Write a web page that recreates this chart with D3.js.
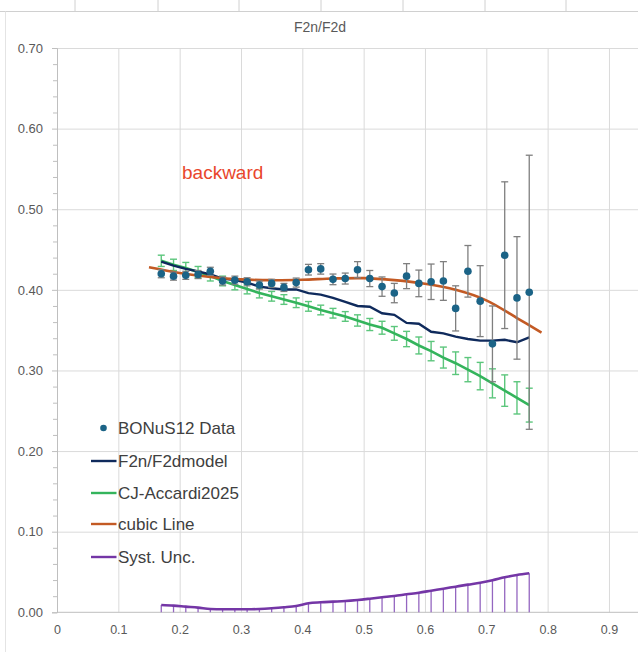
<!DOCTYPE html>
<html>
<head>
<meta charset="utf-8">
<script src="https://cdn.jsdelivr.net/npm/d3@7/dist/d3.min.js"></script>
<style>
  html, body { margin: 0; padding: 0; background: #ffffff; }
  svg { display: block; font-family: "Liberation Sans", Arial, sans-serif; }
</style>
</head>
<body>
<svg id="chart" width="638" height="652"></svg>
<script>
// ---- data ----
const xVals = [0.17,0.19,0.21,0.23,0.25,0.27,0.29,0.31,0.33,0.35,0.37,0.39,0.41,0.43,0.45,0.47,0.49,0.51,0.53,0.55,0.57,0.59,0.61,0.63,0.65,0.67,0.69,0.71,0.73,0.75,0.77];
const bonusData = [0.420,0.417,0.418,0.419,0.423,0.411,0.412,0.410,0.406,0.408,0.403,0.409,0.425,0.426,0.413,0.414,0.425,0.414,0.404,0.396,0.417,0.408,0.410,0.411,0.377,0.423,0.386,0.333,0.443,0.390,0.397];
const bonusErr = [0.005,0.005,0.005,0.005,0.005,0.005,0.005,0.005,0.005,0.005,0.005,0.0056,0.0066,0.0065,0.0066,0.0068,0.010,0.010,0.012,0.012,0.0155,0.0165,0.022,0.024,0.028,0.032,0.044,0.047,0.091,0.076,0.170];
const modelF2 = [0.435,0.430,0.426,0.423,0.419,0.414,0.412,0.409,0.404,0.402,0.4005,0.4005,0.396,0.394,0.390,0.385,0.380,0.379,0.371,0.369,0.359,0.358,0.348,0.346,0.342,0.339,0.337,0.337,0.338,0.335,0.341];
const cjAccardi = [0.436,0.431,0.427,0.422,0.417,0.411,0.406,0.401,0.396,0.392,0.388,0.384,0.3795,0.375,0.371,0.367,0.362,0.357,0.353,0.346,0.339,0.331,0.324,0.316,0.309,0.301,0.293,0.284,0.275,0.266,0.257];
const cjErr = [0.007,0.007,0.007,0.007,0.006,0.006,0.006,0.006,0.006,0.006,0.006,0.006,0.006,0.006,0.006,0.006,0.007,0.0075,0.008,0.0085,0.0095,0.0105,0.012,0.013,0.014,0.015,0.017,0.018,0.0195,0.020,0.021];
const cubicX = [0.15,0.20,0.25,0.30,0.35,0.40,0.45,0.50,0.55,0.60,0.65,0.70,0.75,0.79];
const cubicY = [0.428,0.421,0.416,0.413,0.412,0.4125,0.414,0.4145,0.412,0.4075,0.400,0.387,0.365,0.347];
const systUnc = [0.009,0.0083,0.007,0.0058,0.0041,0.0037,0.0037,0.0037,0.0041,0.005,0.0062,0.0078,0.0112,0.0124,0.0132,0.014,0.0153,0.0169,0.0186,0.0202,0.0223,0.0243,0.0268,0.0293,0.0318,0.0343,0.0367,0.0397,0.0434,0.0463,0.0484];
const yTicks = [0,0.1,0.2,0.3,0.4,0.5,0.6,0.7];
const yMinorTicks = [0.02,0.04,0.06,0.08,0.12,0.14,0.16,0.18,0.22,0.24,0.26,0.28,0.32,0.34,0.36,0.38,0.42,0.44,0.46,0.48,0.52,0.54,0.56,0.58,0.62,0.64,0.66,0.68];
const xTicks = [0,0.1,0.2,0.3,0.4,0.5,0.6,0.7,0.8,0.9];
const xTickLabels = ["0","0.1","0.2","0.3","0.4","0.5","0.6","0.7","0.8","0.9"];
const legendNames = ["BONuS12 Data","F2n/F2dmodel","CJ-Accardi2025","cubic Line","Syst. Unc."];
const titleText = "F2n/F2d";
const noteText = "backward";

// ---- styles ----
const C = {
  dot: "#1b6386", dataErr: "#7f7f7f",
  model: "#0f2a5c", cj: "#34b45c", cjErr: "#5cc67c",
  cubic: "#c35a24", syst: "#7436a6", systDrop: "#9466c0",
  grid: "#dadada", axis: "#bfbfbf", text: "#595959", legend: "#404040", note: "#e9472c"
};

const svg = d3.select("#chart");
const x = d3.scaleLinear().domain([0, 1]).range([57, 670.3]);
const y = d3.scaleLinear().domain([0, 0.7]).range([612.3, 48]);

// spreadsheet decoration (column borders above chart)
const colLines = [75, 158, 239, 321, 403, 485, 566];
svg.append("g").selectAll("line").data(colLines).join("line")
  .attr("x1", d => d).attr("x2", d => d).attr("y1", 0).attr("y2", 11)
  .attr("stroke", "#d0d0d0");
svg.append("line").attr("x1", 0).attr("x2", 638).attr("y1", 11.5).attr("y2", 11.5).attr("stroke", "#d0d0d0");
svg.append("line").attr("x1", 5.5).attr("x2", 5.5).attr("y1", 11.5).attr("y2", 652).attr("stroke", "#e4e4e4");

// title
svg.append("text").attr("x", 320).attr("y", 32).attr("text-anchor", "middle")
  .attr("font-size", 14).attr("fill", C.text).text(titleText);

// gridlines
const gy = svg.append("g").attr("transform", "translate(57,0)")
  .call(d3.axisLeft(y).tickValues(yTicks.filter(d => d > 0)).tickSize(-(638 - 57)).tickFormat(""));
gy.select(".domain").remove();
gy.selectAll("line").attr("stroke", C.grid);

const gx = svg.append("g").attr("transform", "translate(0,612.3)")
  .call(d3.axisBottom(x).tickValues(xTicks.filter(d => d > 0)).tickSize(-(612.3 - 48)).tickFormat(""));
gx.select(".domain").remove();
gx.selectAll("line").attr("stroke", C.grid);

// y axis with labels
const ya = svg.append("g").attr("transform", "translate(57,0)")
  .call(d3.axisLeft(y).tickValues(yTicks).tickSize(5).tickPadding(9).tickFormat(d3.format(".2f")));
ya.select(".domain").attr("stroke", C.axis);
ya.selectAll("line").attr("stroke", C.axis);
ya.selectAll("text").attr("fill", C.text).attr("font-size", 13)
  .attr("font-family", "'Liberation Sans', Arial, sans-serif");

const ym = svg.append("g").attr("transform", "translate(57,0)")
  .call(d3.axisLeft(y).tickValues(yMinorTicks).tickSize(4).tickFormat(""));
ym.select(".domain").remove();
ym.selectAll("line").attr("stroke", C.axis);

// x axis
const xa = svg.append("g").attr("transform", "translate(0,612.3)")
  .call(d3.axisBottom(x).tickValues(xTicks).tickSize(0).tickPadding(13)
    .tickFormat((d, i) => xTickLabels[i]));
xa.select(".domain").attr("stroke", C.axis).attr("d", "M57,0H638");
xa.selectAll("text").attr("fill", C.text).attr("font-size", 12.5)
  .attr("font-family", "'Liberation Sans', Arial, sans-serif");

// note text
svg.append("text").attr("x", 182).attr("y", 179).attr("font-size", 19)
  .attr("fill", C.note).text(noteText);

// syst unc drop lines + line
svg.append("g").selectAll("line").data(xVals).join("line")
  .attr("x1", d => x(d)).attr("x2", d => x(d))
  .attr("y1", (d, i) => y(systUnc[i])).attr("y2", y(0))
  .attr("stroke", C.systDrop).attr("stroke-width", 1.3);
svg.append("path").datum(xVals.map((d, i) => [d, systUnc[i]]))
  .attr("fill", "none").attr("stroke", C.syst).attr("stroke-width", 2.6)
  .attr("d", d3.line().x(d => x(d[0])).y(d => y(d[1])).curve(d3.curveMonotoneX));

// CJ error bars
const cjg = svg.append("g").attr("stroke", C.cjErr).attr("stroke-width", 1.4);
xVals.forEach((d, i) => {
  const x0 = x(d), y1 = y(cjAccardi[i] + cjErr[i]), y2 = y(cjAccardi[i] - cjErr[i]);
  cjg.append("line").attr("x1", x0).attr("x2", x0).attr("y1", y1).attr("y2", y2);
  cjg.append("line").attr("x1", x0 - 3.5).attr("x2", x0 + 3.5).attr("y1", y1).attr("y2", y1);
  cjg.append("line").attr("x1", x0 - 3.5).attr("x2", x0 + 3.5).attr("y1", y2).attr("y2", y2);
});

// lines
const line = d3.line().x(d => x(d[0])).y(d => y(d[1]));
svg.append("path").datum(xVals.map((d, i) => [d, cjAccardi[i]]))
  .attr("fill", "none").attr("stroke", C.cj).attr("stroke-width", 2.6).attr("d", line);
svg.append("path").datum(xVals.map((d, i) => [d, modelF2[i]]))
  .attr("fill", "none").attr("stroke", C.model).attr("stroke-width", 2.4).attr("d", line);
svg.append("path").datum(cubicX.map((d, i) => [d, cubicY[i]]))
  .attr("fill", "none").attr("stroke", C.cubic).attr("stroke-width", 2.6)
  .attr("d", d3.line().x(d => x(d[0])).y(d => y(d[1])).curve(d3.curveCatmullRom));

// data error bars
const eg = svg.append("g").attr("stroke", C.dataErr).attr("stroke-width", 1.3);
xVals.forEach((d, i) => {
  const x0 = x(d), y1 = y(bonusData[i] + bonusErr[i]), y2 = y(bonusData[i] - bonusErr[i]);
  eg.append("line").attr("x1", x0).attr("x2", x0).attr("y1", y1).attr("y2", y2);
  eg.append("line").attr("x1", x0 - 3.5).attr("x2", x0 + 3.5).attr("y1", y1).attr("y2", y1);
  eg.append("line").attr("x1", x0 - 3.5).attr("x2", x0 + 3.5).attr("y1", y2).attr("y2", y2);
});

// dots
svg.append("g").selectAll("circle").data(xVals).join("circle")
  .attr("cx", d => x(d)).attr("cy", (d, i) => y(bonusData[i])).attr("r", 3.8)
  .attr("fill", C.dot);

// legend
const legY = [428, 461, 493, 524, 557];
const legColors = [C.dot, C.model, C.cj, C.cubic, C.syst];
const lg = svg.append("g").attr("font-size", 17).attr("fill", C.legend);
legendNames.forEach((name, i) => {
  if (i === 0) {
    lg.append("circle").attr("cx", 103.5).attr("cy", legY[i]).attr("r", 3.3).attr("fill", legColors[i]);
  } else {
    lg.append("line").attr("x1", 91).attr("x2", 116.5).attr("y1", legY[i]).attr("y2", legY[i])
      .attr("stroke", legColors[i]).attr("stroke-width", 2.4);
  }
  lg.append("text").attr("x", 118).attr("y", legY[i] + 6).text(name);
});
</script>
</body>
</html>
